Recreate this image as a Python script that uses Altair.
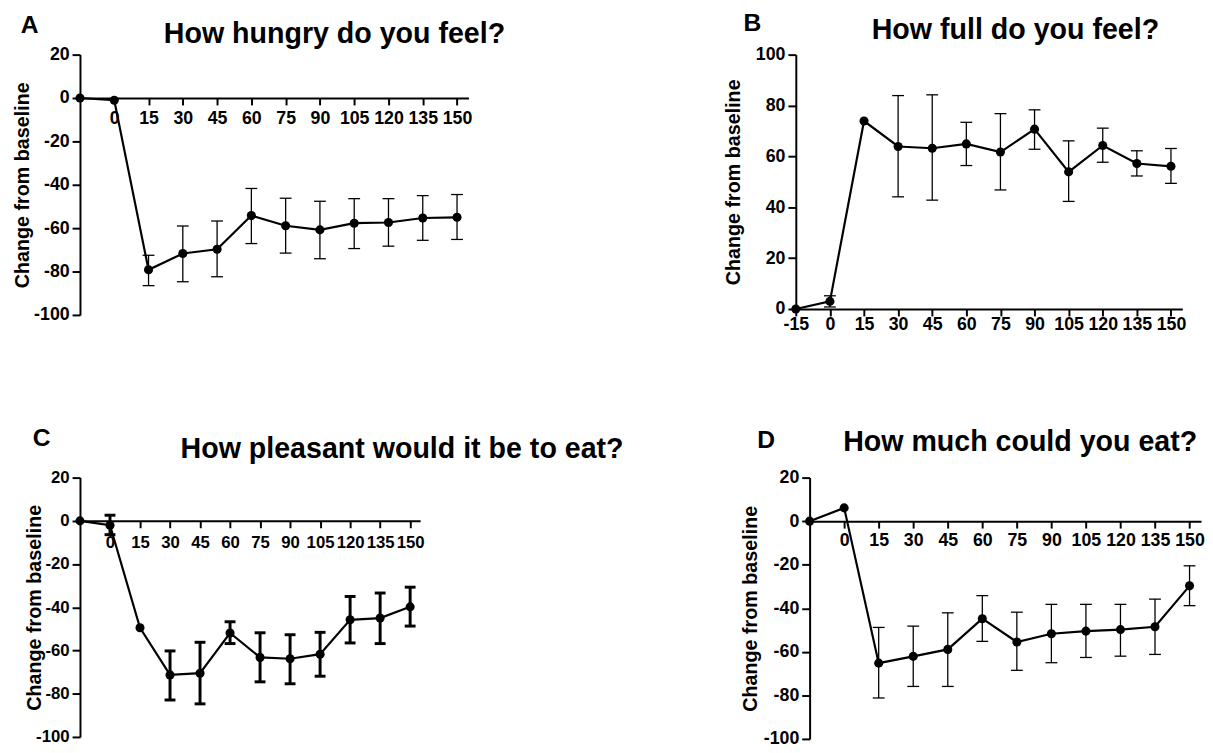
import altair as alt
import pandas as pd

FONT = "Liberation Sans"

time = [-15, 0, 15, 30, 45, 60, 75, 90, 105, 120, 135, 150]

hungry_mean = [0, -1.0, -79.2, -71.7, -69.7, -54.2, -58.9, -60.8, -57.7, -57.4, -55.3, -55.0]
hungry_upper = [None, None, -72.5, -59.0, -56.7, -41.7, -46.2, -47.6, -46.4, -46.4, -45.0, -44.5]
hungry_lower = [None, None, -86.5, -84.7, -82.4, -67.1, -71.5, -74.1, -69.4, -68.3, -65.6, -65.2]

full_mean = [0, 3.0, 73.9, 63.9, 63.2, 64.9, 61.7, 70.7, 53.9, 64.3, 57.2, 56.1]
full_upper = [None, 5.2, None, 83.9, 84.2, 73.4, 76.8, 78.3, 66.1, 71.1, 62.2, 63.1]
full_lower = [None, 0.8, None, 44.1, 42.8, 56.4, 46.8, 62.8, 42.3, 57.7, 52.3, 49.4]

pleasant_mean = [0, -2.0, -49.5, -71.3, -70.5, -51.9, -63.2, -63.8, -61.7, -45.8, -45.0, -39.8]
pleasant_upper = [None, 2.6, None, -60.2, -56.2, -46.7, -51.8, -52.7, -51.6, -35.0, -33.4, -30.7]
pleasant_lower = [None, -6.4, None, -82.9, -84.7, -56.8, -74.5, -75.4, -71.9, -56.5, -56.8, -48.7]

much_mean = [0, 6.1, -65.2, -62.1, -58.9, -44.8, -55.5, -51.7, -50.5, -49.8, -48.5, -29.7]
much_upper = [None, None, -48.8, -48.2, -42.1, -34.2, -41.8, -38.2, -38.2, -38.2, -35.8, -20.5]
much_lower = [None, None, -81.2, -75.9, -75.9, -55.2, -68.5, -65.0, -62.6, -62.0, -61.2, -38.8]

x_ticks_all = [-15, 0, 15, 30, 45, 60, 75, 90, 105, 120, 135, 150]
x_ticks_pos = [0, 15, 30, 45, 60, 75, 90, 105, 120, 135, 150]

titles = ["How hungry do you feel?", "How full do you feel?",
          "How pleasant would it be to eat?", "How much could you eat?"]
letters = ["A", "B", "C", "D"]

HYPHEN = "replace(datum.label, '\u2212', '-')"


def panel(mean, upper, lower, letter, title, width, height, ydom, xvals,
          x_at_zero, lab_size, x_lab_pad, title_x, err_w, cap_w,
          letter_pos, title_pos):
    df = pd.DataFrame({"time": time, "mean": mean, "upper": upper, "lower": lower})
    xscale = alt.Scale(domain=[-15, 155], nice=False, zero=False)
    yscale = alt.Scale(domain=ydom, nice=False, zero=False)
    off = -height * (0 - ydom[0]) / (ydom[1] - ydom[0]) if x_at_zero else 0
    xaxis = alt.Axis(values=xvals, title=None, offset=off, tickSize=7,
                     labelPadding=x_lab_pad, labelFontSize=lab_size,
                     labelOverlap=False, labelFlush=False, grid=False,
                     labelExpr=HYPHEN)
    yaxis = alt.Axis(values=list(range(ydom[0], ydom[1] + 1, 20)),
                     title="Change from baseline", titleX=title_x,
                     titleBaseline="bottom", titleFontSize=20,
                     tickSize=8, labelPadding=3, labelFontSize=lab_size,
                     grid=False, labelExpr=HYPHEN)
    X = alt.X("time:Q", scale=xscale, axis=xaxis)
    base = alt.Chart(df)
    errbase = base.transform_filter("isValid(datum.upper)")
    err = errbase.mark_rule(color="black", strokeWidth=err_w).encode(
        x=X, y=alt.Y("upper:Q", scale=yscale, axis=yaxis), y2="lower:Q")
    cap_hi = errbase.mark_tick(orient="horizontal", color="black", size=cap_w,
                               thickness=err_w, opacity=1).encode(
        x=X, y=alt.Y("upper:Q", scale=yscale, axis=yaxis))
    cap_lo = errbase.mark_tick(orient="horizontal", color="black", size=cap_w,
                               thickness=err_w, opacity=1).encode(
        x=X, y=alt.Y("lower:Q", scale=yscale, axis=yaxis))
    line = base.mark_line(color="black", strokeWidth=2.2).encode(
        x=X, y=alt.Y("mean:Q", scale=yscale, axis=yaxis))
    pts = base.mark_circle(color="black", opacity=1, size=85).encode(
        x=X, y=alt.Y("mean:Q", scale=yscale, axis=yaxis))
    letter_t = alt.Chart(pd.DataFrame({"t": [letter]})).mark_text(
        font=FONT, fontSize=25, fontWeight="bold", align="left",
        baseline="top", color="black").encode(
        text="t:N", x=alt.value(letter_pos[0]), y=alt.value(letter_pos[1]))
    title_t = alt.Chart(pd.DataFrame({"t": [title]})).mark_text(
        font=FONT, fontSize=29, fontWeight="bold", align="left",
        baseline="top", color="black").encode(
        text="t:N", x=alt.value(title_pos[0]), y=alt.value(title_pos[1]))
    return alt.layer(err, cap_hi, cap_lo, line, pts, letter_t, title_t).properties(
        width=width, height=height)


A = panel(hungry_mean, hungry_upper, hungry_lower, letters[0], titles[0],
          394, 264, [-100, 20], x_ticks_pos, True, 18, 5, -48, 1.3, 12,
          (-60, -41.8), (85, -34.5))
B = panel(full_mean, full_upper, full_lower, letters[1], titles[1],
          392, 258, [0, 100], x_ticks_all, False, 18, 0, -53, 1.3, 12,
          (-53, -43.5), (77, -38.5))
C = panel(pleasant_mean, pleasant_upper, pleasant_lower, letters[2], titles[2],
          345, 263, [-100, 20], x_ticks_pos, True, 17, 7, -36, 3, 11,
          (-48, -51.8), (102, -42.5))
D = panel(much_mean, much_upper, much_lower, letters[3], titles[3],
          397, 265, [-100, 20], x_ticks_pos, True, 18, 4, -50, 1.3, 12,
          (-53, -50.2), (34, -49.5))

row1 = alt.hconcat(A, B, spacing=332, bounds="flush")
row2 = alt.hconcat(C, D, spacing=395, bounds="flush")

chart = alt.vconcat(row1, row2, spacing=94).properties(
    padding={"left": 4, "top": -2, "right": 0, "bottom": 0}
).configure_view(stroke=None).configure_axis(
    domainColor="black", tickColor="black", labelColor="black",
    titleColor="black", labelFont=FONT, titleFont=FONT,
    labelFontWeight="bold", titleFontWeight="bold",
    domainWidth=2, tickWidth=2, grid=False)

chart.save("out.html", embed_options={"renderer": "svg", "actions": False})
